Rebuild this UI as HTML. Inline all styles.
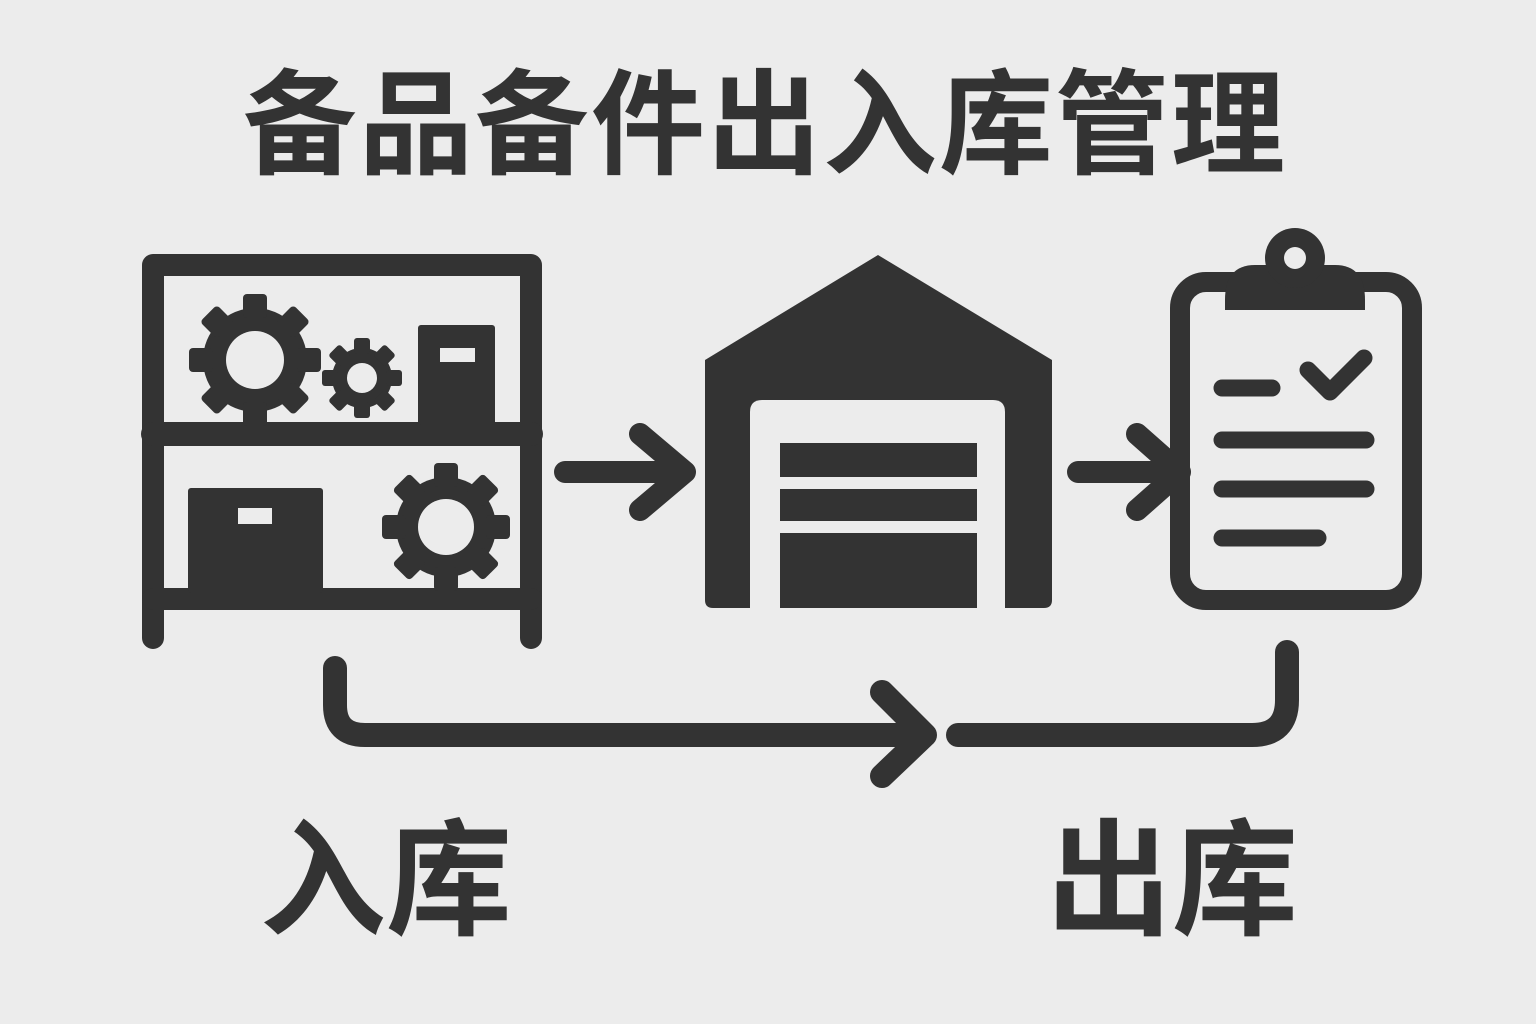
<!DOCTYPE html>
<html><head><meta charset="utf-8">
<style>
html,body{margin:0;padding:0;background:#ececec;}
svg{display:block}
text{font-family:"Liberation Sans","Noto Sans CJK SC",sans-serif;font-weight:bold;fill:#333}
</style></head><body>
<svg width="1536" height="1024" viewBox="0 0 1536 1024">
<rect width="1536" height="1024" fill="#ececec"/>
<text x="765" y="165" font-size="114" text-anchor="middle" letter-spacing="2">备品备件出入库管理</text>
<g fill="none" stroke="#333" stroke-linecap="round" stroke-linejoin="round">
<!-- shelf -->
<path d="M153 638 V265 H531 V638" stroke-width="22"/>
<line x1="153" y1="434" x2="531" y2="434" stroke-width="24"/>
<line x1="153" y1="599" x2="531" y2="599" stroke-width="22"/>
<!-- arrows -->
<path d="M565 472 H685 M640 434 L685 472 L640 510" stroke-width="22"/>
<path d="M1078 472 H1180 M1137 434 L1180 472 L1137 510" stroke-width="22"/>
<!-- clipboard -->
<rect x="1180" y="282" width="232" height="318" rx="26" stroke-width="20"/>
<path d="M1222 388 H1272 M1308 370 L1330 392 L1364 358 M1222 440 H1366 M1222 489 H1366 M1222 538 H1318" stroke-width="17"/>
<!-- bottom connector -->
<path d="M335 668 V705 Q335 735 365 735 H925 M882 692 L925 735 L882 776" stroke-width="24"/>
<path d="M958 735 H1252 Q1287 735 1287 700 V652" stroke-width="24"/>
</g>
<!-- gears -->
<g fill="#333">
<g transform="translate(255,360)">
<circle r="52"/>
<g id="t1"><rect x="-12" y="-66" width="24" height="24" rx="4"/></g>
<use href="#t1" transform="rotate(45)"/><use href="#t1" transform="rotate(90)"/><use href="#t1" transform="rotate(135)"/>
<use href="#t1" transform="rotate(180)"/><use href="#t1" transform="rotate(225)"/><use href="#t1" transform="rotate(270)"/><use href="#t1" transform="rotate(315)"/>
<circle r="29" fill="#ececec"/>
</g>
<g transform="translate(362,378)">
<circle r="30"/>
<g id="t2"><rect x="-8" y="-40" width="16" height="16" rx="3"/></g>
<use href="#t2" transform="rotate(45)"/><use href="#t2" transform="rotate(90)"/><use href="#t2" transform="rotate(135)"/>
<use href="#t2" transform="rotate(180)"/><use href="#t2" transform="rotate(225)"/><use href="#t2" transform="rotate(270)"/><use href="#t2" transform="rotate(315)"/>
<circle r="15" fill="#ececec"/>
</g>
<g transform="translate(446,527)">
<circle r="50"/>
<g id="t3"><rect x="-12" y="-64" width="24" height="24" rx="4"/></g>
<use href="#t3" transform="rotate(45)"/><use href="#t3" transform="rotate(90)"/><use href="#t3" transform="rotate(135)"/>
<use href="#t3" transform="rotate(180)"/><use href="#t3" transform="rotate(225)"/><use href="#t3" transform="rotate(270)"/><use href="#t3" transform="rotate(315)"/>
<circle r="28" fill="#ececec"/>
</g>
<!-- boxes -->
<rect x="418" y="325" width="77" height="100" rx="3"/>
<rect x="440" y="348" width="35" height="14" fill="#ececec"/>
<rect x="188" y="488" width="135" height="105" rx="3"/>
<rect x="238" y="508" width="34" height="16" fill="#ececec"/>
<!-- warehouse -->
<path d="M705 360 L878 255 L1052 360 V600 Q1052 608 1044 608 H713 Q705 608 705 600 Z"/>
<path d="M750 608 V412 Q750 400 762 400 H993 Q1005 400 1005 412 V608 Z" fill="#ececec"/>
<rect x="780" y="443" width="197" height="34"/>
<rect x="780" y="489" width="197" height="32"/>
<rect x="780" y="533" width="197" height="75"/>
<!-- clip -->
<path d="M1225 300 Q1225 265 1255 265 H1335 Q1365 265 1365 300 V310 H1225 Z"/>
<circle cx="1295" cy="258" r="30"/>
<circle cx="1295" cy="258" r="11" fill="#ececec"/>
</g>
<text x="386" y="925" font-size="126" text-anchor="middle">入库</text>
<text x="1172" y="925" font-size="126" text-anchor="middle">出库</text>
</svg>
</body></html>
